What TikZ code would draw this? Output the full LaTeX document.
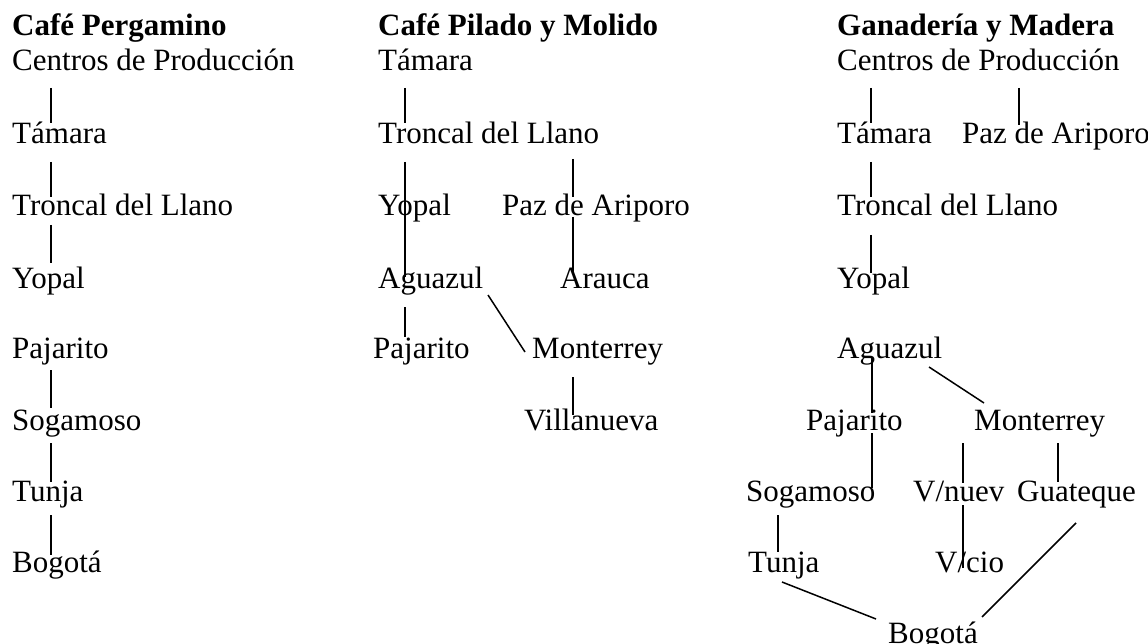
\documentclass[tikz,border=0pt]{standalone}
\usepackage{fontspec}
\setmainfont{Liberation Serif}
\begin{document}
\begin{tikzpicture}[x=1pt,y=-1pt,
  lbl/.style={anchor=base west,inner sep=0pt,font=\fontsize{31}{35}\selectfont},
  ttl/.style={lbl,font=\fontsize{31}{35}\selectfont\bfseries},
  link/.style={draw=black,line width=1.5pt}]
\useasboundingbox (0,0) rectangle (1148,644);
% Column 1
\node[ttl] (t1) at (12,36) {Café Pergamino};
\node[lbl] (a0) at (12,71) {Centros de Producción};
\node[lbl] (a1) at (12,144) {Támara};
\node[lbl] (a2) at (12,216) {Troncal del Llano};
\node[lbl] (a3) at (12,288) {Yopal};
\node[lbl] (a4) at (12,358) {Pajarito};
\node[lbl] (a5) at (12,430) {Sogamoso};
\node[lbl] (a6) at (12,501) {Tunja};
\node[lbl] (a7) at (12,572) {Bogotá};
\draw[link] ([shift={(39,17)}]a0.base west) -- ([shift={(39,-21)}]a1.base west);
\draw[link] ([shift={(39,18)}]a1.base west) -- ([shift={(39,-19)}]a2.base west);
\draw[link] ([shift={(39,9)}]a2.base west) -- ([shift={(39,-25)}]a3.base west);
\draw[link] ([shift={(39,12)}]a4.base west) -- ([shift={(39,-22)}]a5.base west);
\draw[link] ([shift={(39,13)}]a5.base west) -- ([shift={(39,-19)}]a6.base west);
\draw[link] ([shift={(39,14)}]a6.base west) -- ([shift={(39,-17)}]a7.base west);
% Column 2
\node[ttl] (t2) at (378,36) {Café Pilado y Molido};
\node[lbl] (b0) at (378,71) {Támara};
\node[lbl] (b1) at (378,144) {Troncal del Llano};
\node[lbl] (b2y) at (378,216) {Yopal};
\node[lbl] (b2p) at (502,216) {Paz de Ariporo};
\node[lbl] (b3a) at (378,288) {Aguazul};
\node[lbl] (b3r) at (560,288) {Arauca};
\node[lbl] (b4p) at (373,358) {Pajarito};
\node[lbl] (b4m) at (532,358) {Monterrey};
\node[lbl] (b5) at (524,430) {Villanueva};
\draw[link] ([shift={(27,17)}]b0.base west) -- ([shift={(27,-21)}]b1.base west);
\draw[link] ([shift={(27,18)}]b1.base west) -- ([shift={(27,1)}]b2y.base west);
\draw[link] ([shift={(27,1)}]b2y.base west) -- ([shift={(27,-11)}]b3a.base west);
\draw[link] ([shift={(195,15)}]b1.base west) -- ([shift={(71,-19)}]b2p.base west);
\draw[link] ([shift={(71,1)}]b2p.base west) -- ([shift={(13,-16)}]b3r.base west);
\draw[link] ([shift={(27,19)}]b3a.base west) -- ([shift={(32,-21)}]b4p.base west);
\draw[link] ([shift={(110,7)}]b3a.base west) -- ([shift={(-7,-6)}]b4m.base west);
\draw[link] ([shift={(41,19)}]b4m.base west) -- ([shift={(49,-15)}]b5.base west);
% Column 3
\node[ttl] (t3) at (837,36) {Ganadería y Madera};
\node[lbl] (c0) at (837,71) {Centros de Producción};
\node[lbl] (c1t) at (837,144) {Támara};
\node[lbl] (c1p) at (962,144) {Paz de Ariporo};
\node[lbl] (c2) at (837,216) {Troncal del Llano};
\node[lbl] (c3) at (837,288) {Yopal};
\node[lbl] (c4) at (837,358) {Aguazul};
\node[lbl] (c5p) at (806,430) {Pajarito};
\node[lbl] (c5m) at (974,430) {Monterrey};
\node[lbl] (c6s) at (746,501) {Sogamoso};
\node[lbl] (c6v) at (913,501) {V/nuev};
\node[lbl] (c6g) at (1017,501) {Guateque};
\node[lbl] (c7t) at (748,572) {Tunja};
\node[lbl] (c7v) at (935,572) {V/cio};
\node[lbl] (c8) at (888,643) {Bogotá};
\draw[link] ([shift={(34,17)}]c0.base west) -- ([shift={(34,-21)}]c1t.base west);
\draw[link] ([shift={(182,17)}]c0.base west) -- ([shift={(57,-19)}]c1p.base west);
\draw[link] ([shift={(34,18)}]c1t.base west) -- ([shift={(34,-19)}]c2.base west);
\draw[link] ([shift={(34,19)}]c2.base west) -- ([shift={(34,-15)}]c3.base west);
\draw[link] ([shift={(35,0)}]c4.base west) -- ([shift={(66,-17)}]c5p.base west);
\draw[link] ([shift={(66,3)}]c5p.base west) -- ([shift={(126,-13)}]c6s.base west);
\draw[link] ([shift={(92,9)}]c4.base west) -- ([shift={(10,-27)}]c5m.base west);
\draw[link] ([shift={(-11,13)}]c5m.base west) -- ([shift={(50,-18)}]c6v.base west);
\draw[link] ([shift={(50,4)}]c6v.base west) -- ([shift={(28,-4)}]c7v.base west);
\draw[link] ([shift={(84,13)}]c5m.base west) -- ([shift={(41,-19)}]c6g.base west);
\draw[link] ([shift={(32,14)}]c6s.base west) -- ([shift={(30,-20)}]c7t.base west);
\draw[link] ([shift={(34,10)}]c7t.base west) -- ([shift={(-12,-24)}]c8.base west);
\draw[link] ([shift={(59,22)}]c6g.base west) -- ([shift={(94,-26)}]c8.base west);
\end{tikzpicture}
\end{document}
